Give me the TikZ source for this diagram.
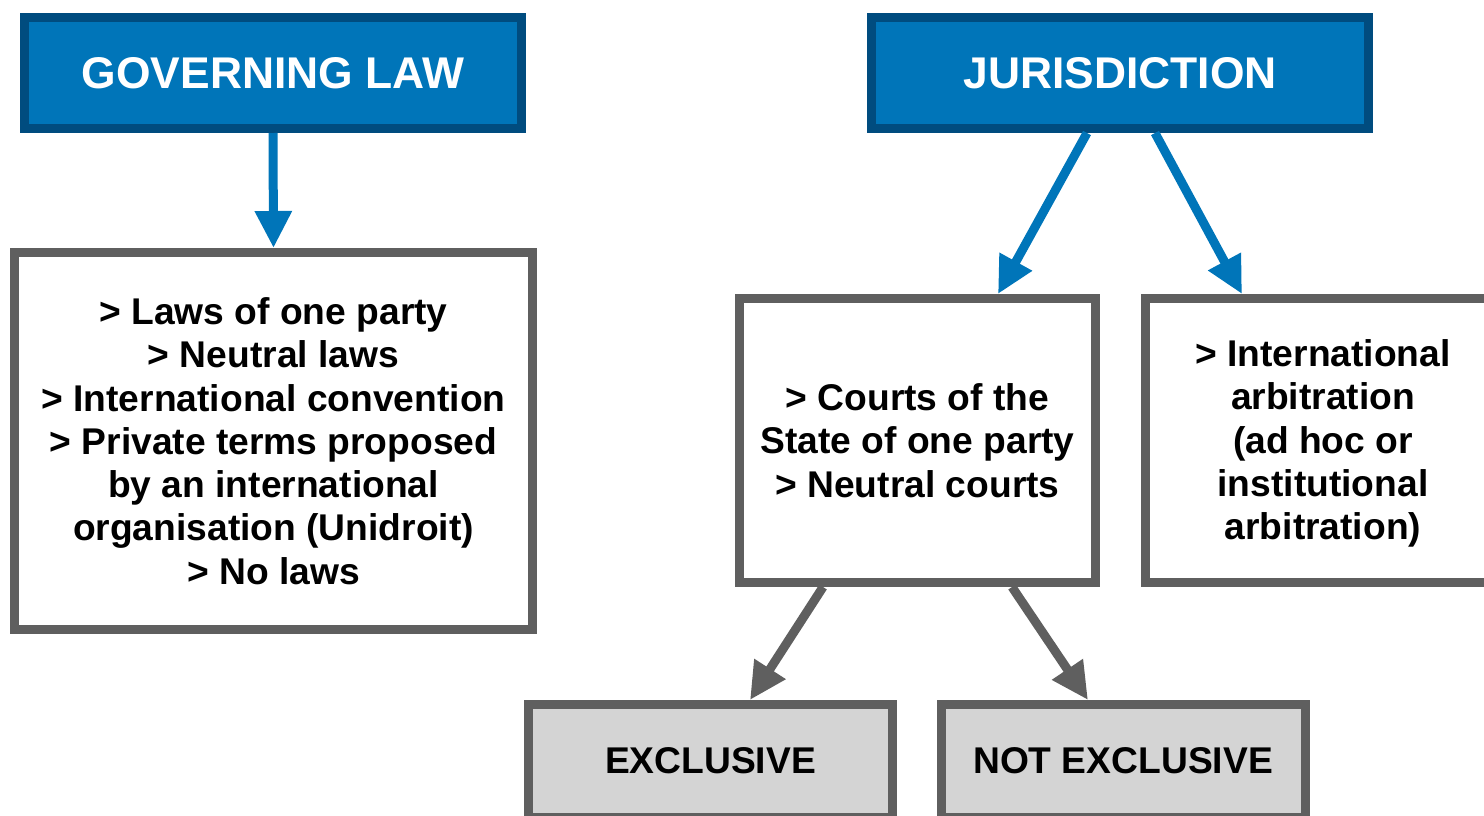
\documentclass[tikz,border=0pt]{standalone}
\usepackage{fontspec}
\setmainfont{Liberation Sans}
\usetikzlibrary{arrows.meta,calc}
\definecolor{hdrfill}{HTML}{0075B9}
\definecolor{hdrline}{HTML}{004C7F}
\definecolor{boxline}{HTML}{5F5F5F}
\definecolor{boxfill}{HTML}{D4D4D4}
\tikzset{
  hdr/.style={draw=hdrline, fill=hdrfill, line width=9pt, text=white, inner sep=0pt,
    minimum width=497pt, minimum height=111pt, font=\bfseries\fontsize{44.4}{52}\selectfont},
  content/.style={draw=boxline, fill=white, line width=9pt, inner sep=0pt, align=center,
    font=\bfseries\fontsize{37.2}{43.3}\selectfont},
  choice/.style={draw=boxline, fill=boxfill, line width=9pt, inner sep=0pt,
    minimum width=364pt, minimum height=113pt, font=\bfseries\fontsize{37.2}{43.3}\selectfont},
  bluearrow/.style={draw=hdrfill, line width=9pt, -{Triangle[width=35pt,length=37pt]}},
  grayarrow/.style={draw=boxline, line width=9pt, -{Triangle[width=35pt,length=37pt]}},
}
\begin{document}
\begin{tikzpicture}[x=1pt,y=-1pt]
\useasboundingbox (0,0) rectangle (1484,815);
\node[hdr] (gl) at (273,73) {GOVERNING LAW};
\node[hdr] (jur) at (1120,73) {JURISDICTION};
\node[content, minimum width=518pt, minimum height=377pt] (lb) at (273.5,441)
  {> Laws of one party\\> Neutral laws\\> International convention\\> Private terms proposed\\by an international\\organisation (Unidroit)\\> No laws};
\node[content, minimum width=356pt, minimum height=284pt] (ct) at (917.5,440.5)
  {> Courts of the\\State of one party\\> Neutral courts};
\node[content, minimum width=355pt, minimum height=284pt] (ar) at (1323,440.5)
  {\raisebox{-4pt}[\height][\depth]{\begin{tabular}{@{}c@{}}> International\\arbitration\\(ad hoc or\\institutional\\arbitration)\end{tabular}}};
\node[choice] (ex) at (710.5,761) {EXCLUSIVE};
\node[choice] (ne) at (1123,761) {NOT EXCLUSIVE};
\draw[bluearrow] (gl.south) -- (lb.north);
\draw[bluearrow] ($(jur.south)+(-33,0)$) -- ($(ct.north)+(80.5,0)$);
\draw[bluearrow] ($(jur.south)+(35,0)$) -- ($(ar.north)+(-81,0)$);
\draw[grayarrow] ($(ct.south)+(-94.5,0)$) -- ($(ex.north)+(39.5,0)$);
\draw[grayarrow] ($(ct.south)+(94.5,0)$) -- ($(ne.north)+(-35,0)$);
\end{tikzpicture}
\end{document}
